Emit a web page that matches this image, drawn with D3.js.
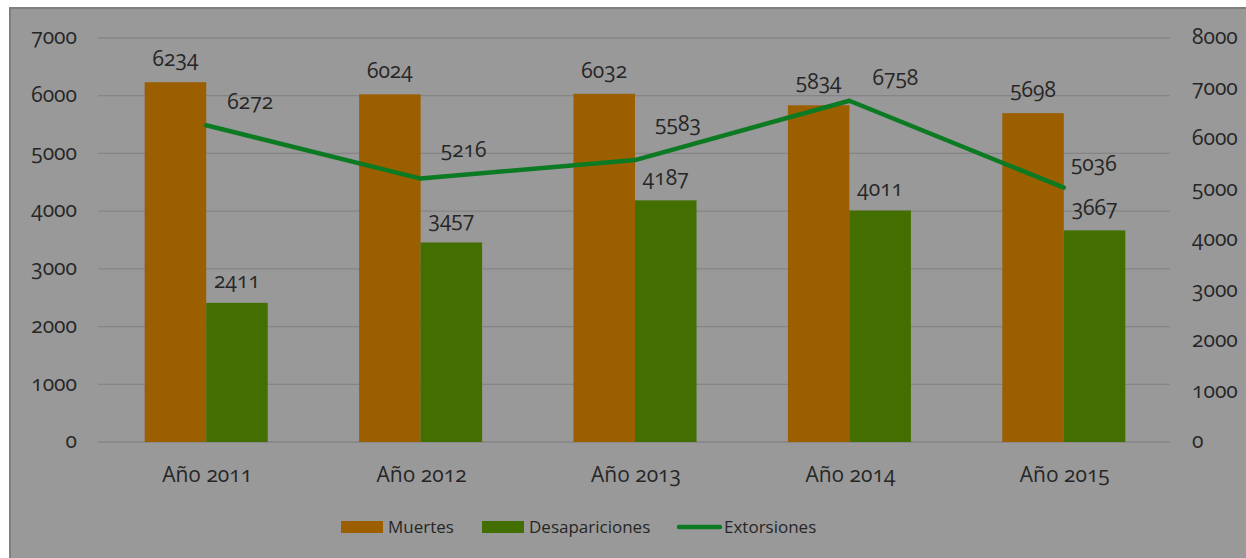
<!DOCTYPE html>
<html>
<head>
<meta charset="utf-8">
<script src="https://cdn.jsdelivr.net/npm/d3@7"></script>
<style>
body { margin: 0; background: #fff; }
svg text { font-family: "Open Sans", "Lato", sans-serif; fill: #262626; font-variant-numeric: oldstyle-nums; font-feature-settings: "onum"; }
</style>
</head>
<body>
<svg id="chart" width="1246" height="558"></svg>
<script>
var years = ["Año 2011", "Año 2012", "Año 2013", "Año 2014", "Año 2015"];
var muertes = [6234, 6024, 6032, 5834, 5698];
var desapariciones = [2411, 3457, 4187, 4011, 3667];
var extorsiones = [6272, 5216, 5583, 6758, 5036];
var leftTicks = [0, 1000, 2000, 3000, 4000, 5000, 6000, 7000];
var rightTicks = [0, 1000, 2000, 3000, 4000, 5000, 6000, 7000, 8000];

/// label nudges for the line values (as placed in the original)
var lineLabelDx = [44, 43, 43, 46, 30];
var lineLabelDy = [-16, -22, -29, -16, -17];

var colMuertes = "#9c5f00", colDesap = "#436e00", colLine = "#0b7a22";

var svg = d3.select("#chart");
svg.append("rect").attr("x", 10).attr("y", 8).attr("width", 1240).attr("height", 560)
  .attr("fill", "#999999").attr("stroke", "#7f7f7f").attr("stroke-width", 2);

var plotLeft = 98, plotRight = 1170, plotTop = 38, plotBottom = 442;

var x = d3.scaleBand().domain(years).range([plotLeft, plotRight]);
var yL = d3.scaleLinear().domain([0, 7000]).range([plotBottom, plotTop]);
var yR = d3.scaleLinear().domain([0, 8000]).range([plotBottom, plotTop]);
var barW = 61.5;

/// gridlines
svg.append("g").selectAll("line").data(leftTicks).join("line")
  .attr("x1", plotLeft).attr("x2", plotRight)
  .attr("y1", d => yL(d)).attr("y2", d => yL(d))
  .attr("stroke", "#858585").attr("stroke-width", 1.3);

/// axes labels
svg.append("g").selectAll("text").data(leftTicks).join("text")
  .attr("x", 77).attr("y", d => yL(d)).attr("dy", "0.3em")
  .attr("text-anchor", "end").attr("font-size", 21).text(d => d);

svg.append("g").selectAll("text").data(rightTicks).join("text")
  .attr("x", 1192).attr("y", d => yR(d)).attr("dy", "0.3em")
  .attr("text-anchor", "start").attr("font-size", 21).text(d => d);

svg.append("g").selectAll("text").data(years).join("text")
  .attr("x", d => x(d) + x.bandwidth() / 2 + 2).attr("y", 482)
  .attr("text-anchor", "middle").attr("font-size", 21).text(d => d);

/// bars
var cx = i => x(years[i]) + x.bandwidth() / 2 + 1;
svg.append("g").selectAll("rect").data(muertes).join("rect")
  .attr("x", (d, i) => cx(i) - barW).attr("width", barW)
  .attr("y", d => yL(d)).attr("height", d => plotBottom - yL(d)).attr("fill", colMuertes);
svg.append("g").selectAll("rect").data(desapariciones).join("rect")
  .attr("x", (d, i) => cx(i)).attr("width", barW)
  .attr("y", d => yL(d)).attr("height", d => plotBottom - yL(d)).attr("fill", colDesap);

svg.append("g").selectAll("text").data(muertes).join("text")
  .attr("x", (d, i) => cx(i) - barW / 2).attr("y", d => yL(d) - 16)
  .attr("text-anchor", "middle").attr("font-size", 21).text(d => d);
svg.append("g").selectAll("text").data(desapariciones).join("text")
  .attr("x", (d, i) => cx(i) + barW / 2).attr("y", d => yL(d) - 15)
  .attr("text-anchor", "middle").attr("font-size", 21).text(d => d);

/// line
var line = d3.line().x((d, i) => cx(i)).y(d => yR(d));
svg.append("path").datum(extorsiones).attr("d", line)
  .attr("fill", "none").attr("stroke", colLine).attr("stroke-width", 4.5)
  .attr("stroke-linejoin", "round").attr("stroke-linecap", "round");
svg.append("g").selectAll("text").data(extorsiones).join("text")
  .attr("x", (d, i) => cx(i) + lineLabelDx[i]).attr("y", (d, i) => yR(d) + lineLabelDy[i])
  .attr("text-anchor", "middle").attr("font-size", 21).text(d => d);

/// legend
var lg = svg.append("g");
lg.append("rect").attr("x", 341).attr("y", 521).attr("width", 42).attr("height", 12).attr("fill", colMuertes);
lg.append("text").attr("x", 388).attr("y", 527).attr("dy", "0.35em").attr("font-size", 17).text("Muertes");
lg.append("rect").attr("x", 482).attr("y", 521).attr("width", 42).attr("height", 12).attr("fill", colDesap);
lg.append("text").attr("x", 529).attr("y", 527).attr("dy", "0.35em").attr("font-size", 17).text("Desapariciones");
lg.append("line").attr("x1", 679).attr("x2", 720).attr("y1", 527).attr("y2", 527)
  .attr("stroke", colLine).attr("stroke-width", 4.5).attr("stroke-linecap", "round");
lg.append("text").attr("x", 724).attr("y", 527).attr("dy", "0.35em").attr("font-size", 17).text("Extorsiones");
</script>
</body>
</html>
